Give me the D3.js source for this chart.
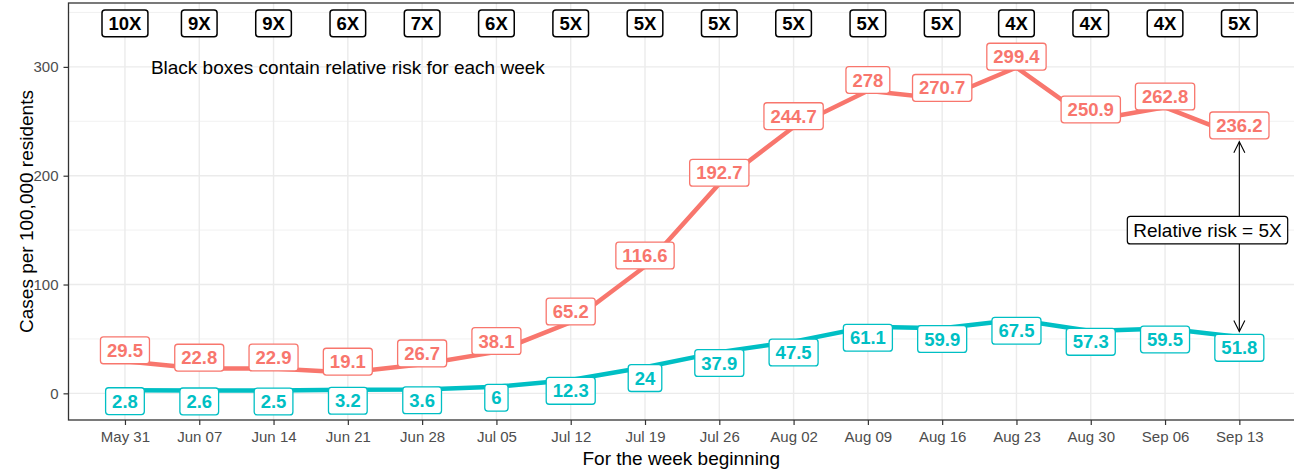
<!DOCTYPE html>
<html>
<head>
<meta charset="utf-8">
<script src="https://cdn.jsdelivr.net/npm/d3@7"></script>
<style>
  body { margin: 0; background: #fff; }
  text { font-family: "Liberation Sans", Arial, sans-serif; }
</style>
</head>
<body>
<div id="container"></div>
<script>
/* CONSTANTS AND GLOBALS */
const width = 1294;
const height = 469;
const panel = { left: 68.5, right: 1295.8, top: 3, bottom: 420 };
const redColor = "#F8766D";
const tealColor = "#00BFC4";

/* DATA */
const weeks = ["2020-05-31", "2020-06-07", "2020-06-14", "2020-06-21", "2020-06-28", "2020-07-05",
  "2020-07-12", "2020-07-19", "2020-07-26", "2020-08-02", "2020-08-09", "2020-08-16",
  "2020-08-23", "2020-08-30", "2020-09-06", "2020-09-13"];
const highRates = [29.5, 22.8, 22.9, 19.1, 26.7, 38.1, 65.2, 116.6, 192.7, 244.7, 278, 270.7, 299.4, 250.9, 262.8, 236.2];
const lowRates = [2.8, 2.6, 2.5, 3.2, 3.6, 6, 12.3, 24, 37.9, 47.5, 61.1, 59.9, 67.5, 57.3, 59.5, 51.8];
const riskLabels = ["10X", "9X", "9X", "6X", "7X", "6X", "5X", "5X", "5X", "5X", "5X", "5X", "4X", "4X", "4X", "5X"];
const yTicks = [0, 100, 200, 300];
const yMinorTicks = [50, 150, 250, 350];

const parseDate = d3.timeParse("%Y-%m-%d");
const dates = weeks.map(parseDate);
const week = 7 * 24 * 3600 * 1000;

/* SCALES */
const xScale = d3.scaleTime()
  .domain([new Date(+dates[0] - 0.76 * week), new Date(+dates[dates.length - 1] + 0.76 * week)])
  .range([panel.left, panel.right]);

const yScale = d3.scaleLinear()
  .domain([-24.5, 358.7])
  .range([panel.bottom, panel.top]);

/* HTML ELEMENTS */
const svg = d3.select("#container")
  .append("svg")
  .attr("width", width)
  .attr("height", height);

// grid
svg.append("g")
  .selectAll("line")
  .data(yMinorTicks)
  .join("line")
  .attr("x1", panel.left).attr("x2", panel.right)
  .attr("y1", d => yScale(d)).attr("y2", d => yScale(d))
  .attr("stroke", "#EBEBEB").attr("stroke-width", 0.7);

svg.append("g")
  .selectAll("line")
  .data(yTicks)
  .join("line")
  .attr("x1", panel.left).attr("x2", panel.right)
  .attr("y1", d => yScale(d)).attr("y2", d => yScale(d))
  .attr("stroke", "#EBEBEB").attr("stroke-width", 1.4);

svg.append("g")
  .selectAll("line")
  .data(dates)
  .join("line")
  .attr("x1", d => xScale(d)).attr("x2", d => xScale(d))
  .attr("y1", panel.top).attr("y2", panel.bottom)
  .attr("stroke", "#EBEBEB").attr("stroke-width", 1.4);

// Append x axis
const xAxis = d3.axisBottom(xScale)
  .tickValues(dates)
  .tickFormat(d3.timeFormat("%b %d"))
  .tickSize(5)
  .tickPadding(6);
const gx = svg.append("g")
  .attr("transform", `translate(0,${panel.bottom})`)
  .call(xAxis);

// Append y axis
const yAxis = d3.axisLeft(yScale)
  .tickValues(yTicks)
  .tickSize(5)
  .tickPadding(5);
const gy = svg.append("g")
  .attr("transform", `translate(${panel.left},0)`)
  .call(yAxis);

[gx, gy].forEach(g => {
  g.select(".domain").remove();
  g.selectAll(".tick line").attr("stroke", "#333").attr("stroke-width", 1.2);
  g.selectAll(".tick text")
    .attr("fill", "#4D4D4D")
    .style("font-size", "15px")
    .style("font-family", "'Liberation Sans', Arial, sans-serif");
});

// panel border
svg.append("rect")
  .attr("x", panel.left).attr("y", panel.top)
  .attr("width", panel.right - panel.left)
  .attr("height", panel.bottom - panel.top)
  .attr("fill", "none")
  .attr("stroke", "#333")
  .attr("stroke-width", 1.3);

// axis titles
svg.append("text")
  .attr("x", (panel.left + width) / 2)
  .attr("y", 465)
  .attr("text-anchor", "middle")
  .style("font-size", "19px")
  .text("For the week beginning");

svg.append("text")
  .attr("transform", `translate(33,${(panel.top + panel.bottom) / 2}) rotate(-90)`)
  .attr("text-anchor", "middle")
  .style("font-size", "19px")
  .text("Cases per 100,000 residents");

// lines
const line = d3.line()
  .x((d, i) => xScale(dates[i]))
  .y(d => yScale(d));

svg.append("path")
  .datum(highRates)
  .attr("d", line)
  .attr("fill", "none")
  .attr("stroke", redColor)
  .attr("stroke-width", 4.5);

svg.append("path")
  .datum(lowRates)
  .attr("d", line)
  .attr("fill", "none")
  .attr("stroke", tealColor)
  .attr("stroke-width", 4.5);

// boxed labels (geom_label look)
function addLabels(items, color, strokeW, weight) {
  const g = svg.append("g");
  const lab = g.selectAll("g")
    .data(items)
    .join("g")
    .attr("transform", d => `translate(${d.x},${d.y})`);
  lab.append("text")
    .attr("text-anchor", "middle")
    .attr("y", 6.6)
    .attr("fill", color)
    .style("font-size", "18.5px")
    .style("font-weight", weight)
    .text(d => d.text);
  lab.each(function() {
    const gg = d3.select(this);
    const w = gg.select("text").node().getComputedTextLength() + 13;
    gg.insert("rect", "text")
      .attr("x", -w / 2).attr("y", -13.4)
      .attr("width", w).attr("height", 26.8)
      .attr("rx", 3).attr("ry", 3)
      .attr("fill", "#fff")
      .attr("stroke", color)
      .attr("stroke-width", strokeW);
  });
}

const nudge = 10;
addLabels(highRates.map((v, i) => ({ x: xScale(dates[i]), y: yScale(v + nudge), text: v })), redColor, 1.3, "bold");
addLabels(lowRates.map((v, i) => ({ x: xScale(dates[i]), y: yScale(v - nudge), text: v })), tealColor, 1.3, "bold");
addLabels(riskLabels.map((r, i) => ({ x: xScale(dates[i]), y: yScale(340), text: r })), "#000", 1.5, "bold");

// note text
svg.append("text")
  .attr("x", xScale(dates[3]))
  .attr("y", yScale(300) + 6.8)
  .attr("text-anchor", "middle")
  .style("font-size", "19px")
  .text("Black boxes contain relative risk for each week");

// relative risk arrow for last week
const last = dates.length - 1;
const ax = xScale(dates[last]);
const y1 = yScale(highRates[last] - 5);
const y2 = yScale(lowRates[last] + 5);
svg.append("line")
  .attr("x1", ax).attr("x2", ax)
  .attr("y1", y1).attr("y2", y2)
  .attr("stroke", "#000").attr("stroke-width", 1.1);
svg.append("path")
  .attr("d", `M${ax - 5.5},${y1 + 11}L${ax},${y1}L${ax + 5.5},${y1 + 11}M${ax - 5.5},${y2 - 11}L${ax},${y2}L${ax + 5.5},${y2 - 11}`)
  .attr("fill", "none")
  .attr("stroke", "#000").attr("stroke-width", 1.1);

const rr = svg.append("g")
  .attr("transform", `translate(${xScale(new Date(+dates[last] - 3 * 24 * 3600 * 1000))},${yScale(150)})`);
rr.append("text")
  .attr("text-anchor", "middle")
  .attr("y", 6.8)
  .style("font-size", "19px")
  .text("Relative risk = 5X");
const rw = rr.select("text").node().getComputedTextLength() + 12;
rr.insert("rect", "text")
  .attr("x", -rw / 2).attr("y", -13.8)
  .attr("width", rw).attr("height", 27.6)
  .attr("rx", 3).attr("ry", 3)
  .attr("fill", "#fff")
  .attr("stroke", "#000")
  .attr("stroke-width", 1.2);
</script>
</body>
</html>
